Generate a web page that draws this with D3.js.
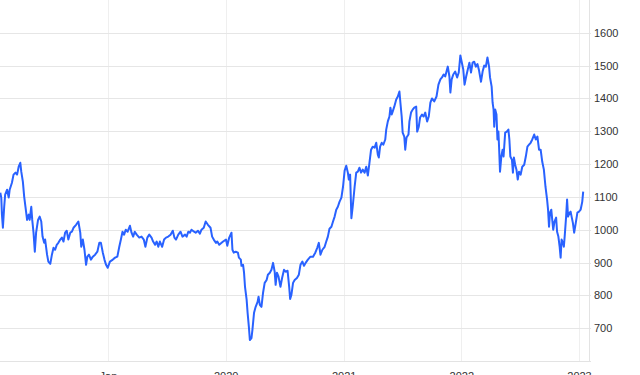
<!DOCTYPE html>
<html lang="en">
<head>
  <meta charset="UTF-8">
  <title>Index chart</title>
  <script src="https://d3js.org/d3.v7.min.js"></script>
  <style>
    html, body { margin: 0; padding: 0; background: #fff; overflow: hidden; }
    #chart text { font-family: "Liberation Sans", Arial, sans-serif; font-size: 11px; fill: #333; }
  </style>
</head>
<body>
  <div id="chart"></div>
  <script>
    // tick labels
    var yTicks = [700, 800, 900, 1000, 1100, 1200, 1300, 1400, 1500, 1600];
    var xTickDates = ["2019-01-01", "2020-01-01", "2021-01-01", "2022-01-01", "2023-01-01"];
    var xTickLabels = ["Jan", "2020", "2021", "2022", "2023"];

    // closing values
    var dates = [
      "2018-02-01","2018-02-04","2018-02-06","2018-02-09","2018-02-13","2018-02-16","2018-02-22","2018-02-27",
      "2018-03-02","2018-03-09","2018-03-14","2018-03-20","2018-03-25","2018-03-30","2018-04-04","2018-04-07",
      "2018-04-12","2018-04-16","2018-04-20","2018-04-25","2018-04-30","2018-05-03","2018-05-08","2018-05-11",
      "2018-05-15","2018-05-19","2018-05-23","2018-05-29","2018-06-03","2018-06-08","2018-06-12","2018-06-17",
      "2018-06-20","2018-06-26","2018-06-30","2018-07-06","2018-07-11","2018-07-16","2018-07-21","2018-07-26",
      "2018-07-31","2018-08-06","2018-08-11","2018-08-16","2018-08-21","2018-08-26","2018-08-31","2018-09-06",
      "2018-09-11","2018-09-16","2018-09-24","2018-10-01","2018-10-07","2018-10-10","2018-10-15","2018-10-20",
      "2018-10-25","2018-10-29","2018-11-03","2018-11-09","2018-11-15","2018-11-22","2018-11-29","2018-12-05",
      "2018-12-10","2018-12-16","2018-12-21","2018-12-26","2018-12-31",
      "2019-01-07","2019-01-16","2019-01-23","2019-01-30","2019-02-05","2019-02-10","2019-02-15","2019-02-20",
      "2019-02-25","2019-03-03","2019-03-10","2019-03-15","2019-03-20","2019-03-25","2019-03-31","2019-04-08",
      "2019-04-15","2019-04-22","2019-04-27","2019-05-03","2019-05-09","2019-05-16","2019-05-21","2019-05-27",
      "2019-06-01","2019-06-06","2019-06-11","2019-06-18","2019-06-24","2019-06-30","2019-07-07","2019-07-14",
      "2019-07-21","2019-07-26","2019-07-31","2019-08-07","2019-08-14","2019-08-20","2019-08-28","2019-09-02",
      "2019-09-07","2019-09-12","2019-09-17","2019-09-25","2019-09-30","2019-10-07","2019-10-13","2019-10-18",
      "2019-10-25","2019-10-31","2019-11-07","2019-11-15","2019-11-20","2019-11-25","2019-12-02","2019-12-06",
      "2019-12-12","2019-12-24",
      "2020-01-02","2020-01-06","2020-01-12","2020-01-19","2020-01-22","2020-01-26","2020-02-01","2020-02-08",
      "2020-02-11","2020-02-17","2020-02-19","2020-02-24","2020-02-27","2020-03-01","2020-03-06","2020-03-09",
      "2020-03-13","2020-03-16","2020-03-21","2020-03-24","2020-03-29","2020-04-03","2020-04-09","2020-04-12",
      "2020-04-16","2020-04-21","2020-04-26","2020-05-01","2020-05-07","2020-05-11","2020-05-17","2020-05-22",
      "2020-05-27","2020-06-01","2020-06-04","2020-06-08","2020-06-13","2020-06-19","2020-06-24","2020-06-30",
      "2020-07-05","2020-07-11","2020-07-16","2020-07-19","2020-07-23","2020-07-28","2020-08-02","2020-08-09",
      "2020-08-15","2020-08-20","2020-08-26","2020-08-31","2020-09-05","2020-09-12","2020-09-20","2020-09-28",
      "2020-10-05","2020-10-11","2020-10-16","2020-10-21","2020-10-27","2020-11-03","2020-11-08","2020-11-13",
      "2020-11-18","2020-11-24","2020-11-29","2020-12-04","2020-12-09","2020-12-14","2020-12-19","2020-12-25",
      "2020-12-30",
      "2021-01-04","2021-01-09","2021-01-14","2021-01-17","2021-01-21","2021-01-25","2021-01-29","2021-02-04",
      "2021-02-09","2021-02-14","2021-02-19","2021-02-24","2021-03-01","2021-03-07","2021-03-12","2021-03-17",
      "2021-03-22","2021-03-27","2021-04-01","2021-04-07","2021-04-12","2021-04-17","2021-04-20","2021-04-24",
      "2021-04-29","2021-05-04","2021-05-10","2021-05-13","2021-05-18","2021-05-23","2021-05-26","2021-05-30",
      "2021-06-02","2021-06-07","2021-06-13","2021-06-18","2021-06-23","2021-06-26","2021-06-30","2021-07-03",
      "2021-07-08","2021-07-11","2021-07-15","2021-07-21","2021-07-24","2021-07-29","2021-08-03","2021-08-08",
      "2021-08-14","2021-08-17","2021-08-22","2021-08-26","2021-09-01","2021-09-06","2021-09-11","2021-09-17",
      "2021-09-22","2021-09-27","2021-10-02","2021-10-09","2021-10-16","2021-10-22","2021-10-28","2021-11-02",
      "2021-11-07","2021-11-12","2021-11-16","2021-11-20","2021-11-25","2021-11-28","2021-12-02","2021-12-07",
      "2021-12-13","2021-12-19","2021-12-24","2021-12-29",
      "2022-01-02","2022-01-07","2022-01-11","2022-01-16","2022-01-21","2022-01-26","2022-01-31","2022-02-05",
      "2022-02-10","2022-02-15","2022-02-20","2022-02-25","2022-03-03","2022-03-08","2022-03-13","2022-03-18",
      "2022-03-23","2022-03-28","2022-03-31","2022-04-05","2022-04-08","2022-04-11","2022-04-13","2022-04-16",
      "2022-04-20","2022-04-23","2022-04-26","2022-04-28","2022-05-01","2022-05-05","2022-05-09","2022-05-12",
      "2022-05-17","2022-05-22","2022-05-27","2022-05-30","2022-06-02","2022-06-07","2022-06-10","2022-06-13",
      "2022-06-17","2022-06-21","2022-06-25","2022-06-29","2022-07-04","2022-07-09","2022-07-15","2022-07-20",
      "2022-07-25","2022-07-30","2022-08-04","2022-08-09","2022-08-15","2022-08-20","2022-08-25","2022-08-30",
      "2022-09-04","2022-09-09","2022-09-14","2022-09-19","2022-09-24","2022-09-27","2022-09-30","2022-10-03",
      "2022-10-07","2022-10-10","2022-10-13","2022-10-17","2022-10-22","2022-10-25","2022-10-29","2022-11-02",
      "2022-11-05","2022-11-08","2022-11-12","2022-11-15","2022-11-18","2022-11-22","2022-11-25","2022-11-28",
      "2022-12-03","2022-12-06","2022-12-09","2022-12-13","2022-12-17","2022-12-22","2022-12-27",
      "2023-01-01","2023-01-06","2023-01-11","2023-01-14"
    ];
    var closes = [
      1113,1097,1046,1006,1070,1107,1122,1098,
      1122,1143,1168,1174,1168,1192,1204,1177,
      1146,1101,1070,1030,1046,1030,1070,1030,
      991,933,991,1030,1040,1025,979,960,
      970,924,903,896,924,945,939,954,
      960,970,976,964,991,997,970,991,
      994,1006,1015,1025,991,948,970,939,
      893,918,924,909,918,924,933,960,
      960,930,909,893,884,
      903,909,915,918,948,970,994,985,
      1000,994,1012,991,979,994,985,976,
      979,970,948,976,985,976,964,954,
      964,948,964,948,970,976,979,985,
      997,976,970,985,994,979,985,979,
      994,991,1000,994,991,997,988,1000,
      1006,1025,1015,1006,979,970,960,964,
      954,964,
      970,951,976,991,939,930,933,930,
      915,909,890,893,869,826,787,747,
      704,664,670,695,747,765,780,796,
      771,765,808,838,847,863,869,878,
      899,872,832,869,857,826,853,878,
      872,875,826,789,802,838,847,853,
      863,893,903,890,899,909,918,918,
      930,945,960,924,939,948,964,979,
      1003,1009,1025,1040,1061,1070,1085,1098,
      1131,
      1180,1195,1174,1153,1168,1035,1070,1131,
      1174,1177,1189,1174,1183,1174,1192,1165,
      1204,1244,1253,1250,1265,1229,1220,1253,
      1265,1259,1275,1305,1330,1345,1372,1351,
      1360,1375,1397,1406,1421,1387,1345,1296,
      1284,1244,1281,1290,1330,1357,1366,1372,
      1375,1299,1314,1342,1351,1345,1357,1330,
      1345,1387,1400,1391,1406,1442,1458,1464,
      1473,1467,1482,1497,1467,1418,1458,1473,
      1482,1464,1479,1531,
      1512,1488,1442,1467,1488,1509,1479,1509,
      1512,1497,1505,1485,1451,1482,1500,1497,
      1525,1497,1464,1436,1387,1366,1314,1366,
      1351,1275,1299,1253,1177,1223,1244,1223,
      1296,1299,1305,1275,1223,1213,1174,1220,
      1198,1183,1153,1177,1168,1192,1198,1223,
      1253,1259,1265,1275,1290,1275,1284,1244,
      1244,1207,1183,1131,1092,1061,1009,1052,
      1061,1030,1000,1025,1037,994,979,948,
      915,970,960,948,985,1040,1092,1040,
      1052,1055,1040,1021,991,1021,1052,
      1055,1061,1085,1116
    ];

    var W = 640, H = 375;
    var plotW = 589, plotH = 361;
    var parse = d3.timeParse("%Y-%m-%d");

    var data = dates.map(function (d, i) { return { date: parse(d), value: closes[i] }; });

    var svg = d3.select("#chart")
      .append("svg")
      .attr("width", W)
      .attr("height", H);

    var x = d3.scaleTime()
      .domain([parse("2018-01-31"), parse("2023-02-01")])
      .range([0, plotW]);

    var y = d3.scaleLinear()
      .domain([600, 1700])
      .range([plotH, 0]);

    // vertical year grid
    svg.append("g")
      .selectAll("line")
      .data(xTickDates)
      .enter()
      .append("line")
      .attr("x1", function (d) { return Math.round(x(parse(d))) + 0.5; })
      .attr("x2", function (d) { return Math.round(x(parse(d))) + 0.5; })
      .attr("y1", 0)
      .attr("y2", plotH)
      .style("stroke", "#efefef");

    // horizontal grid
    svg.append("g")
      .selectAll("line")
      .data(yTicks)
      .enter()
      .append("line")
      .attr("x1", 0)
      .attr("x2", plotW + 2)
      .attr("y1", function (d) { return Math.round(y(d)) + 0.5; })
      .attr("y2", function (d) { return Math.round(y(d)) + 0.5; })
      .style("stroke", "#e6e6e6");

    // frame lines: bottom and right
    svg.append("line")
      .attr("x1", 0).attr("x2", plotW + 2)
      .attr("y1", plotH + 0.5).attr("y2", plotH + 0.5)
      .style("stroke", "#e3e3e3");
    svg.append("line")
      .attr("x1", plotW + 0.5).attr("x2", plotW + 0.5)
      .attr("y1", 0).attr("y2", plotH)
      .style("stroke", "#e3e3e3");

    // right axis, plain numbers without thousands separator
    var yAxis = svg.append("g")
      .attr("transform", "translate(" + plotW + ",0)")
      .call(d3.axisRight(y).tickValues(yTicks).tickFormat(d3.format("d")).tickSize(0).tickPadding(5));
    yAxis.select(".domain").remove();

    // bottom axis (labels sit half below the frame, as in the source)
    var xAxis = svg.append("g")
      .attr("transform", "translate(0," + plotH + ")")
      .call(d3.axisBottom(x)
        .tickValues(xTickDates.map(parse))
        .tickFormat(function (d, i) { return xTickLabels[i]; })
        .tickSize(0)
        .tickPadding(11));
    xAxis.select(".domain").remove();

    // the line
    var line = d3.line()
      .x(function (d) { return x(d.date); })
      .y(function (d) { return y(d.value); });

    svg.append("path")
      .datum(data)
      .attr("d", line)
      .style("fill", "none")
      .style("stroke", "#2962ff")
      .style("stroke-width", 2)
      .style("stroke-linejoin", "round");
  </script>
</body>
</html>
